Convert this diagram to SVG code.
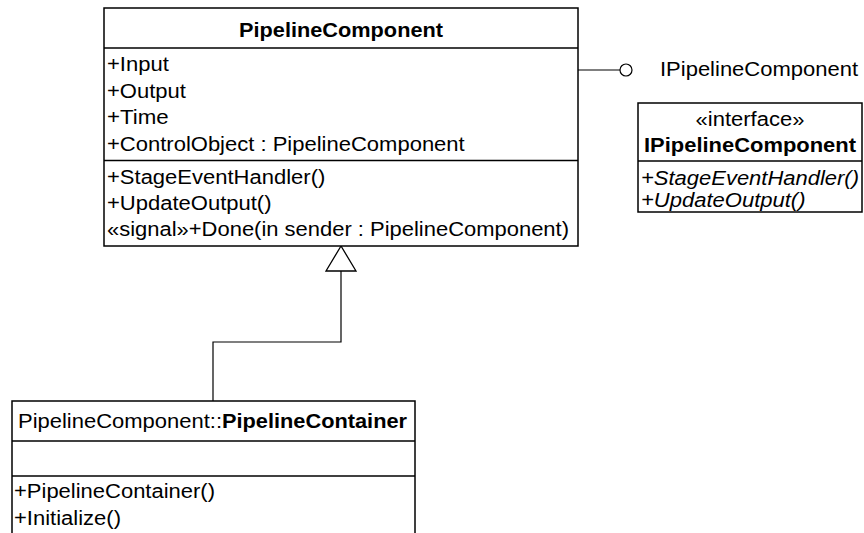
<svg xmlns="http://www.w3.org/2000/svg" width="864" height="533" viewBox="0 0 864 533">
  <style>
    .box { fill: #ffffff; stroke: #000000; stroke-width: 1.5; }
    .div { stroke: #000000; stroke-width: 1.5; }
    .edge { fill: none; stroke: #000000; stroke-width: 1.2; }
    text { font-family: "Liberation Sans", Arial, sans-serif; font-size: 20px; fill: #000000; }
    .b { font-weight: bold; font-size: 20px; }
    .i { font-style: italic; }
    .c { text-anchor: middle; }
  </style>
  <rect width="864" height="533" fill="#ffffff"/>

  <!-- connectors -->
  <g id="connectors">
    <!-- generalization: PipelineContainer -> PipelineComponent -->
    <polyline class="edge" points="213,401 213,342 341,342 341,271"/>
    <polygon points="341,246 326,271 356,271" fill="#ffffff" stroke="#000000" stroke-width="1.3"/>
    <!-- provided interface (lollipop) -->
    <line class="edge" x1="578" y1="70" x2="620" y2="70"/>
    <circle cx="626" cy="70" r="6" fill="#ffffff" stroke="#000000" stroke-width="1.2"/>
    <text x="660" y="75.5" textLength="198" lengthAdjust="spacingAndGlyphs">IPipelineComponent</text>
  </g>

  <!-- PipelineComponent class -->
  <g id="PipelineComponent">
    <rect class="box" x="104" y="8" width="474" height="238"/>
    <line class="div" x1="104" y1="48" x2="578" y2="48"/>
    <line class="div" x1="104" y1="160.5" x2="578" y2="160.5"/>
    <text class="b c" x="341" y="36.5" textLength="204" lengthAdjust="spacingAndGlyphs">PipelineComponent</text>
    <text x="107" y="71" textLength="61.8" lengthAdjust="spacingAndGlyphs">+Input</text>
    <text x="107" y="97.5" textLength="78.9" lengthAdjust="spacingAndGlyphs">+Output</text>
    <text x="107" y="124" textLength="61.7" lengthAdjust="spacingAndGlyphs">+Time</text>
    <text x="107" y="150.5" textLength="357.7" lengthAdjust="spacingAndGlyphs">+ControlObject : PipelineComponent</text>
    <text x="107" y="183.5" textLength="218.3" lengthAdjust="spacingAndGlyphs">+StageEventHandler()</text>
    <text x="107" y="209.5" textLength="164.5" lengthAdjust="spacingAndGlyphs">+UpdateOutput()</text>
    <text x="107" y="236" textLength="462" lengthAdjust="spacingAndGlyphs">«signal»+Done(in sender : PipelineComponent)</text>
  </g>

  <!-- IPipelineComponent interface -->
  <g id="IPipelineComponent">
    <rect class="box" x="638" y="103" width="224" height="109"/>
    <line class="div" x1="638" y1="161" x2="862" y2="161"/>
    <text class="c" x="750" y="125.5" textLength="108.8" lengthAdjust="spacingAndGlyphs">«interface»</text>
    <text class="b c" x="750" y="151.5" textLength="212" lengthAdjust="spacingAndGlyphs">IPipelineComponent</text>
    <text class="i" x="641" y="184.5" textLength="218" lengthAdjust="spacingAndGlyphs">+StageEventHandler()</text>
    <text class="i" x="641" y="206.5" textLength="164.5" lengthAdjust="spacingAndGlyphs">+UpdateOutput()</text>
  </g>

  <!-- PipelineContainer class -->
  <g id="PipelineContainer">
    <rect class="box" x="12" y="401" width="403" height="140"/>
    <line class="div" x1="12" y1="441" x2="415" y2="441"/>
    <line class="div" x1="12" y1="476" x2="415" y2="476"/>
    <text x="18" y="427.5" textLength="204" lengthAdjust="spacingAndGlyphs">PipelineComponent::</text>
    <text class="b" x="222" y="427.5" textLength="185" lengthAdjust="spacingAndGlyphs">PipelineContainer</text>
    <text x="14" y="497.5" textLength="201" lengthAdjust="spacingAndGlyphs">+PipelineContainer()</text>
    <text x="14" y="524.5" textLength="107" lengthAdjust="spacingAndGlyphs">+Initialize()</text>
  </g>
</svg>
